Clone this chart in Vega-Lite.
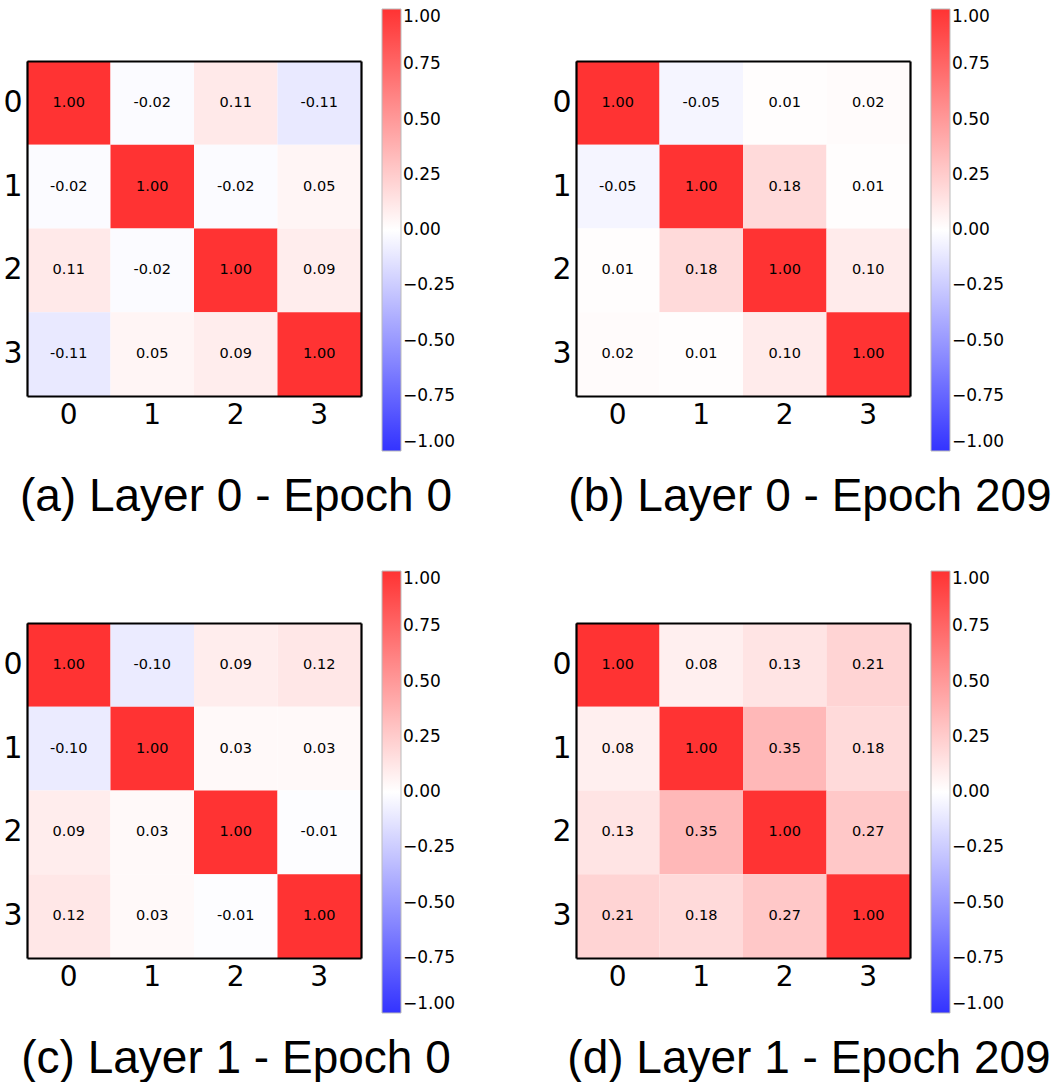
{
  "$schema": "https://vega.github.io/schema/vega-lite/v6.json",
  "autosize": {"type": "pad"},
  "padding": {"left": 2, "top": 9, "right": 0, "bottom": 0},
  "background": "white",
  "datasets": {
    "a": [
      {"r": 0, "c": 0, "v": 1.0}, {"r": 0, "c": 1, "v": -0.02}, {"r": 0, "c": 2, "v": 0.11}, {"r": 0, "c": 3, "v": -0.11},
      {"r": 1, "c": 0, "v": -0.02}, {"r": 1, "c": 1, "v": 1.0}, {"r": 1, "c": 2, "v": -0.02}, {"r": 1, "c": 3, "v": 0.05},
      {"r": 2, "c": 0, "v": 0.11}, {"r": 2, "c": 1, "v": -0.02}, {"r": 2, "c": 2, "v": 1.0}, {"r": 2, "c": 3, "v": 0.09},
      {"r": 3, "c": 0, "v": -0.11}, {"r": 3, "c": 1, "v": 0.05}, {"r": 3, "c": 2, "v": 0.09}, {"r": 3, "c": 3, "v": 1.0}
    ],
    "b": [
      {"r": 0, "c": 0, "v": 1.0}, {"r": 0, "c": 1, "v": -0.05}, {"r": 0, "c": 2, "v": 0.01}, {"r": 0, "c": 3, "v": 0.02},
      {"r": 1, "c": 0, "v": -0.05}, {"r": 1, "c": 1, "v": 1.0}, {"r": 1, "c": 2, "v": 0.18}, {"r": 1, "c": 3, "v": 0.01},
      {"r": 2, "c": 0, "v": 0.01}, {"r": 2, "c": 1, "v": 0.18}, {"r": 2, "c": 2, "v": 1.0}, {"r": 2, "c": 3, "v": 0.10},
      {"r": 3, "c": 0, "v": 0.02}, {"r": 3, "c": 1, "v": 0.01}, {"r": 3, "c": 2, "v": 0.10}, {"r": 3, "c": 3, "v": 1.0}
    ],
    "c": [
      {"r": 0, "c": 0, "v": 1.0}, {"r": 0, "c": 1, "v": -0.10}, {"r": 0, "c": 2, "v": 0.09}, {"r": 0, "c": 3, "v": 0.12},
      {"r": 1, "c": 0, "v": -0.10}, {"r": 1, "c": 1, "v": 1.0}, {"r": 1, "c": 2, "v": 0.03}, {"r": 1, "c": 3, "v": 0.03},
      {"r": 2, "c": 0, "v": 0.09}, {"r": 2, "c": 1, "v": 0.03}, {"r": 2, "c": 2, "v": 1.0}, {"r": 2, "c": 3, "v": -0.01},
      {"r": 3, "c": 0, "v": 0.12}, {"r": 3, "c": 1, "v": 0.03}, {"r": 3, "c": 2, "v": -0.01}, {"r": 3, "c": 3, "v": 1.0}
    ],
    "d": [
      {"r": 0, "c": 0, "v": 1.0}, {"r": 0, "c": 1, "v": 0.08}, {"r": 0, "c": 2, "v": 0.13}, {"r": 0, "c": 3, "v": 0.21},
      {"r": 1, "c": 0, "v": 0.08}, {"r": 1, "c": 1, "v": 1.0}, {"r": 1, "c": 2, "v": 0.35}, {"r": 1, "c": 3, "v": 0.18},
      {"r": 2, "c": 0, "v": 0.13}, {"r": 2, "c": 1, "v": 0.35}, {"r": 2, "c": 2, "v": 1.0}, {"r": 2, "c": 3, "v": 0.27},
      {"r": 3, "c": 0, "v": 0.21}, {"r": 3, "c": 1, "v": 0.18}, {"r": 3, "c": 2, "v": 0.27}, {"r": 3, "c": 3, "v": 1.0}
    ]
  },
  "columns": 2,
  "spacing": {"row": 227, "column": 215},
  "bounds": "flush",
  "resolve": {"scale": {"color": "independent", "x": "independent", "y": "independent"}, "legend": {"color": "independent"}},
  "concat": [
    {
      "data": {"name": "a"},
      "width": 334, "height": 335,
      "title": {"text": "(a) Layer 0 - Epoch 0", "dx": 42},
      "resolve": {"axis": {"x": "independent", "y": "independent"}},
      "layer": [
        {"mark": "rect", "encoding": {
          "x": {"field": "c", "type": "ordinal", "axis": {"orient": "bottom", "zindex": 2}},
          "y": {"field": "r", "type": "ordinal", "axis": {"orient": "left", "zindex": 2}},
          "color": {"field": "v", "type": "quantitative", "scale": {"domain": [-1, 0, 1], "range": ["#3333ff", "#ffffff", "#ff3333"], "interpolate": "rgb"},
            "legend": {"values": [-1, -0.75, -0.5, -0.25, 0, 0.25, 0.5, 0.75, 1], "labelExpr": "replace(format(datum.value, '.2f'), '-', '\u2212')"}}}},
        {"mark": "text", "encoding": {
          "x": {"field": "c", "type": "ordinal", "axis": {"orient": "top", "labels": false, "zindex": 2}},
          "y": {"field": "r", "type": "ordinal", "axis": {"orient": "right", "labels": false, "zindex": 2}},
          "text": {"field": "v", "type": "quantitative", "format": ".2f"}}}
      ]
    },
    {
      "data": {"name": "b"},
      "width": 334, "height": 335,
      "title": {"text": "(b) Layer 0 - Epoch 209", "dx": 67},
      "resolve": {"axis": {"x": "independent", "y": "independent"}},
      "layer": [
        {"mark": "rect", "encoding": {
          "x": {"field": "c", "type": "ordinal", "axis": {"orient": "bottom", "zindex": 2}},
          "y": {"field": "r", "type": "ordinal", "axis": {"orient": "left", "zindex": 2}},
          "color": {"field": "v", "type": "quantitative", "scale": {"domain": [-1, 0, 1], "range": ["#3333ff", "#ffffff", "#ff3333"], "interpolate": "rgb"},
            "legend": {"values": [-1, -0.75, -0.5, -0.25, 0, 0.25, 0.5, 0.75, 1], "labelExpr": "replace(format(datum.value, '.2f'), '-', '\u2212')"}}}},
        {"mark": "text", "encoding": {
          "x": {"field": "c", "type": "ordinal", "axis": {"orient": "top", "labels": false, "zindex": 2}},
          "y": {"field": "r", "type": "ordinal", "axis": {"orient": "right", "labels": false, "zindex": 2}},
          "text": {"field": "v", "type": "quantitative", "format": ".2f"}}}
      ]
    },
    {
      "data": {"name": "c"},
      "width": 334, "height": 335,
      "title": {"text": "(c) Layer 1 - Epoch 0", "dx": 42},
      "resolve": {"axis": {"x": "independent", "y": "independent"}},
      "layer": [
        {"mark": "rect", "encoding": {
          "x": {"field": "c", "type": "ordinal", "axis": {"orient": "bottom", "zindex": 2}},
          "y": {"field": "r", "type": "ordinal", "axis": {"orient": "left", "zindex": 2}},
          "color": {"field": "v", "type": "quantitative", "scale": {"domain": [-1, 0, 1], "range": ["#3333ff", "#ffffff", "#ff3333"], "interpolate": "rgb"},
            "legend": {"values": [-1, -0.75, -0.5, -0.25, 0, 0.25, 0.5, 0.75, 1], "labelExpr": "replace(format(datum.value, '.2f'), '-', '\u2212')"}}}},
        {"mark": "text", "encoding": {
          "x": {"field": "c", "type": "ordinal", "axis": {"orient": "top", "labels": false, "zindex": 2}},
          "y": {"field": "r", "type": "ordinal", "axis": {"orient": "right", "labels": false, "zindex": 2}},
          "text": {"field": "v", "type": "quantitative", "format": ".2f"}}}
      ]
    },
    {
      "data": {"name": "d"},
      "width": 334, "height": 335,
      "title": {"text": "(d) Layer 1 - Epoch 209", "dx": 66},
      "resolve": {"axis": {"x": "independent", "y": "independent"}},
      "layer": [
        {"mark": "rect", "encoding": {
          "x": {"field": "c", "type": "ordinal", "axis": {"orient": "bottom", "zindex": 2}},
          "y": {"field": "r", "type": "ordinal", "axis": {"orient": "left", "zindex": 2}},
          "color": {"field": "v", "type": "quantitative", "scale": {"domain": [-1, 0, 1], "range": ["#3333ff", "#ffffff", "#ff3333"], "interpolate": "rgb"},
            "legend": {"values": [-1, -0.75, -0.5, -0.25, 0, 0.25, 0.5, 0.75, 1], "labelExpr": "replace(format(datum.value, '.2f'), '-', '\u2212')"}}}},
        {"mark": "text", "encoding": {
          "x": {"field": "c", "type": "ordinal", "axis": {"orient": "top", "labels": false, "zindex": 2}},
          "y": {"field": "r", "type": "ordinal", "axis": {"orient": "right", "labels": false, "zindex": 2}},
          "text": {"field": "v", "type": "quantitative", "format": ".2f"}}}
      ]
    }
  ],
  "config": {
    "locale": {"number": {"decimal": ".", "thousands": ",", "grouping": [3], "currency": ["$", ""], "minus": "-"}},
    "view": {"stroke": null},
    "scale": {"bandPaddingInner": 0, "bandPaddingOuter": 0},
    "rect": {"strokeWidth": 0},
    "text": {"font": "DejaVu Sans", "fontSize": 14.5, "color": "black"},
    "title": {"orient": "bottom", "anchor": "middle", "frame": "group", "font": "Liberation Sans", "fontSize": 46, "fontWeight": "normal", "color": "black", "offset": 23},
    "axis": {"ticks": false, "domain": true, "domainColor": "black", "domainWidth": 2.2, "domainOpacity": 1, "grid": false, "title": null, "labelFont": "DejaVu Sans", "labelFontSize": 28, "labelColor": "black", "labelAngle": 0, "labelPadding": 5},
    "axisLeft": {"labelFontSize": 30},
    "legend": {
      "orient": "none", "legendX": 355, "legendY": -52, "title": null,
      "gradientLength": 442, "gradientThickness": 19, "gradientStrokeColor": "#bbbbbb", "gradientStrokeWidth": 1,
      "labelFont": "DejaVu Sans", "labelFontSize": 17, "labelColor": "black", "labelOffset": 4, "labelOverlap": false,
      "labelBaseline": "middle"
    }
  }
}
